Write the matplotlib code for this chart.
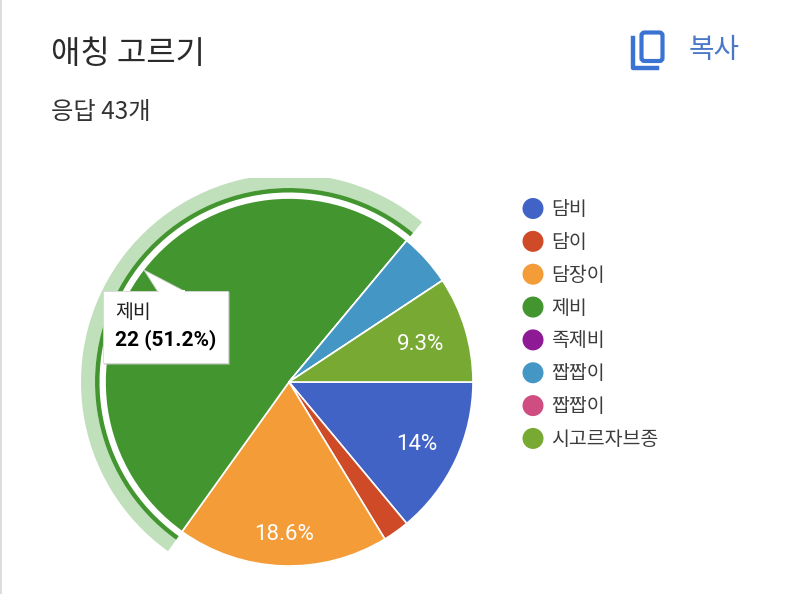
import matplotlib
matplotlib.use('Agg')
import matplotlib.pyplot as plt
from matplotlib.patches import Wedge, Circle, FancyBboxPatch, Polygon, Rectangle

plt.rcParams['font.family'] = ['Noto Sans CJK KR', 'DejaVu Sans']

title = '애칭 고르기'
subtitle = '응답 43개'
copy_label = '복사'
labels = ['담비', '담이', '담장이', '제비', '족제비', '짭짭이', '짭짭이', '시고르자브종']
counts = [6, 1, 8, 22, 0, 2, 0, 4]
colors = ['#4263c6', '#cf4a26', '#f39c38', '#43962f', '#8e1a96', '#4496c4', '#cf4d80', '#77a933']
pct_labels = ['14%', '', '18.6%', '', '', '', '', '9.3%']
selected = 3

W, H = 800, 594
CX, CY = 289, H - 382
R = 184


def y(py):
    # pixel row from the top -> data y
    return H - py


fig = plt.figure(figsize=(8, 5.94), dpi=100)
ax = fig.add_axes([0, 0, 1, 1])

# grey edge of the card
ax.add_patch(Rectangle((0, 0), 2, H, color='#dcdcdc', lw=0))

# pie, clockwise from east
wedges, _ = ax.pie(counts, colors=colors, startangle=0, counterclock=False,
                   center=(CX, CY), radius=R, frame=True,
                   wedgeprops={'edgecolor': 'white', 'linewidth': 1.2})
ax.set_xlim(0, W)
ax.set_ylim(0, H)
ax.set_aspect('equal')
ax.axis('off')

# highlight rings on the selected slice
t1, t2 = wedges[selected].theta1, wedges[selected].theta2
clip = Rectangle((0, 0), W, y(178), transform=ax.transData)
ring_out = Wedge((CX, CY), 208, t1, t2, width=14, color='#c0dfbb', lw=0)
ring_in = Wedge((CX, CY), 194, t1, t2, width=4.5, color='#43962f', lw=0)
for ring in (ring_out, ring_in):
    ax.add_patch(ring)
    ring.set_clip_path(clip)

# percent labels inside the slices
pct_pos = {0: (417, 445), 2: (284, 535), 7: (421, 345)}
for i, (px, py) in pct_pos.items():
    ax.text(px, y(py), pct_labels[i], color='white', fontsize=16,
            family=['Roboto', 'DejaVu Sans'], ha='center', va='center')

# tooltip
ax.add_patch(Rectangle((104, y(365)), 126, 73, color='#c4c4c4', lw=0, alpha=0.5))
ax.add_patch(Polygon([(144, y(270)), (158, y(292)), (186, y(292))], closed=True,
                     facecolor='white', edgecolor='#d0d0d0', lw=0.6))
ax.add_patch(Rectangle((103, y(363)), 125, 72, facecolor='white', edgecolor='#d8d8d8', lw=0.6))
ax.add_patch(Rectangle((159, y(293)), 26, 3, color='white', lw=0))
ax.text(115, y(313), labels[selected], fontsize=14, color='#222222', va='center')
ax.text(115, y(340), f'{counts[selected]} ({counts[selected] / sum(counts) * 100:.1f}%)',
        fontsize=15, fontweight='bold', color='black', va='center',
        family=['Roboto', 'DejaVu Sans'])

# legend
for i, (lab, col) in enumerate(zip(labels, colors)):
    ly = 208.5 + i * 32.85
    ax.add_patch(Circle((533, y(ly)), 10.5, color=col, lw=0))
    ax.text(551, y(ly + 1), lab, fontsize=14, color='#3c3c3c', va='center')

# header
ax.text(51, y(54), title, fontsize=23, color='#2b2b2b', va='center')
ax.text(51, y(112), subtitle, fontsize=17.5, color='#333333', va='center')
ax.text(714, y(50), copy_label, fontsize=20, color='#4a78c8', va='center', ha='center')

# copy icon
blue = '#3a73d2'
ax.add_patch(FancyBboxPatch((641.5, y(61)), 21, 28.5, boxstyle='round,pad=0,rounding_size=3',
                            facecolor='none', edgecolor=blue, lw=3))
ax.plot([633, 633, 657], [y(38), y(68), y(68)], color=blue, lw=3.2, solid_joinstyle='round')

fig.savefig('out.png', dpi=100)
